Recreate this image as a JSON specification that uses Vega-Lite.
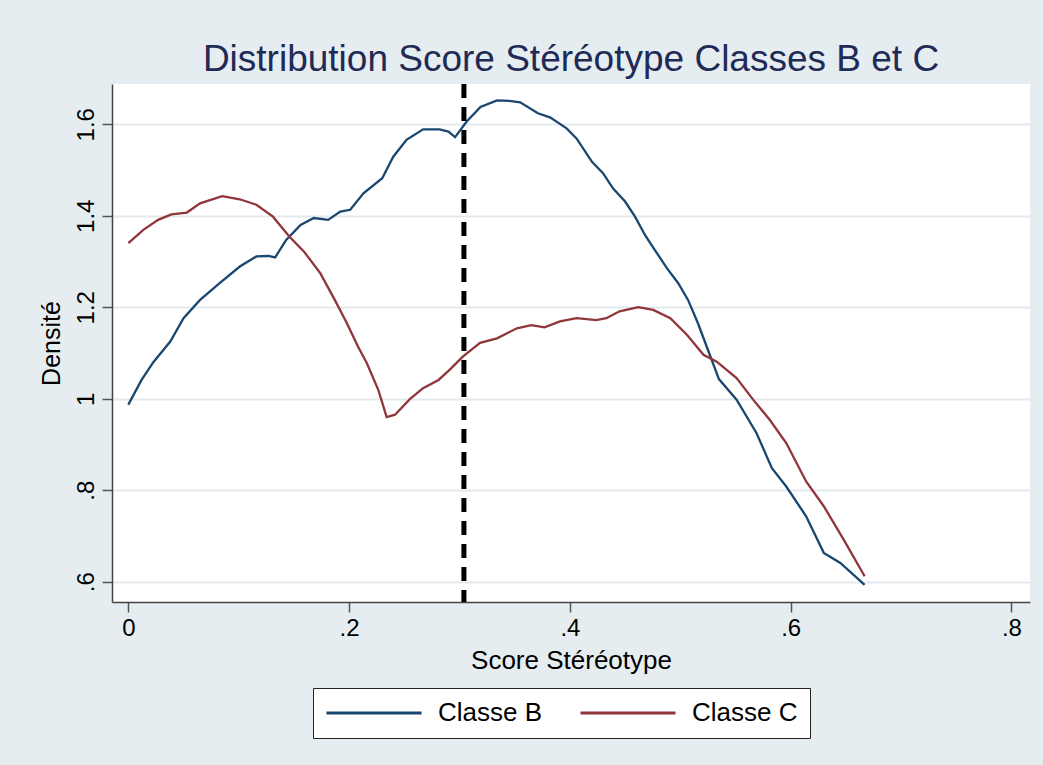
{
  "$schema": "https://vega.github.io/schema/vega-lite/v6.json",
  "width": 918,
  "height": 518,
  "autosize": {"type": "none"},
  "padding": {"left": 112, "top": 84, "right": 13, "bottom": 163},
  "background": "#e6edf0",
  "title": {
    "text": "Distribution Score Stéréotype Classes B et C",
    "font": "Liberation Sans",
    "fontSize": 37,
    "fontWeight": "normal",
    "color": "#1f2a56",
    "anchor": "middle",
    "offset": 3
  },
  "config": {
    "view": {"fill": "white", "stroke": null},
    "font": "Liberation Sans",
    "axis": {
      "labelFont": "Liberation Sans",
      "titleFont": "Liberation Sans",
      "labelColor": "#000000",
      "titleColor": "#000000",
      "titleFontWeight": "normal",
      "domainColor": "#444444",
      "domainWidth": 1.5,
      "tickColor": "#555555",
      "tickWidth": 1.5,
      "tickSize": 10
    },
    "legend": {
      "orient": "none",
      "legendX": 201,
      "legendY": 604,
      "direction": "horizontal",
      "padding": 12,
      "strokeColor": "#222222",
      "fillColor": "white",
      "symbolType": "stroke",
      "symbolSize": 9025,
      "symbolStrokeWidth": 3,
      "clipHeight": 26,
      "labelFont": "Liberation Sans",
      "labelFontSize": 26,
      "labelColor": "#000000",
      "labelOffset": 15,
      "columnPadding": 36,
      "title": null
    }
  },
  "datasets": {
    "dens": [
      {"score": 0.000, "densite": 0.987, "classe": "Classe B"},
      {"score": 0.012, "densite": 1.041, "classe": "Classe B"},
      {"score": 0.023, "densite": 1.081, "classe": "Classe B"},
      {"score": 0.038, "densite": 1.125, "classe": "Classe B"},
      {"score": 0.050, "densite": 1.176, "classe": "Classe B"},
      {"score": 0.065, "densite": 1.216, "classe": "Classe B"},
      {"score": 0.083, "densite": 1.253, "classe": "Classe B"},
      {"score": 0.101, "densite": 1.289, "classe": "Classe B"},
      {"score": 0.116, "densite": 1.311, "classe": "Classe B"},
      {"score": 0.127, "densite": 1.312, "classe": "Classe B"},
      {"score": 0.133, "densite": 1.309, "classe": "Classe B"},
      {"score": 0.143, "densite": 1.347, "classe": "Classe B"},
      {"score": 0.156, "densite": 1.380, "classe": "Classe B"},
      {"score": 0.168, "densite": 1.395, "classe": "Classe B"},
      {"score": 0.181, "densite": 1.391, "classe": "Classe B"},
      {"score": 0.192, "densite": 1.409, "classe": "Classe B"},
      {"score": 0.201, "densite": 1.413, "classe": "Classe B"},
      {"score": 0.213, "densite": 1.449, "classe": "Classe B"},
      {"score": 0.230, "densite": 1.482, "classe": "Classe B"},
      {"score": 0.240, "densite": 1.529, "classe": "Classe B"},
      {"score": 0.252, "densite": 1.566, "classe": "Classe B"},
      {"score": 0.267, "densite": 1.589, "classe": "Classe B"},
      {"score": 0.282, "densite": 1.589, "classe": "Classe B"},
      {"score": 0.290, "densite": 1.584, "classe": "Classe B"},
      {"score": 0.296, "densite": 1.572, "classe": "Classe B"},
      {"score": 0.3065, "densite": 1.606, "classe": "Classe B"},
      {"score": 0.319, "densite": 1.638, "classe": "Classe B"},
      {"score": 0.334, "densite": 1.652, "classe": "Classe B"},
      {"score": 0.345, "densite": 1.651, "classe": "Classe B"},
      {"score": 0.355, "densite": 1.648, "classe": "Classe B"},
      {"score": 0.371, "densite": 1.624, "classe": "Classe B"},
      {"score": 0.382, "densite": 1.615, "classe": "Classe B"},
      {"score": 0.397, "densite": 1.591, "classe": "Classe B"},
      {"score": 0.406, "densite": 1.569, "classe": "Classe B"},
      {"score": 0.420, "densite": 1.518, "classe": "Classe B"},
      {"score": 0.430, "densite": 1.493, "classe": "Classe B"},
      {"score": 0.439, "densite": 1.460, "classe": "Classe B"},
      {"score": 0.450, "densite": 1.431, "classe": "Classe B"},
      {"score": 0.459, "densite": 1.398, "classe": "Classe B"},
      {"score": 0.468, "densite": 1.358, "classe": "Classe B"},
      {"score": 0.477, "densite": 1.325, "classe": "Classe B"},
      {"score": 0.488, "densite": 1.285, "classe": "Classe B"},
      {"score": 0.498, "densite": 1.253, "classe": "Classe B"},
      {"score": 0.507, "densite": 1.216, "classe": "Classe B"},
      {"score": 0.516, "densite": 1.165, "classe": "Classe B"},
      {"score": 0.525, "densite": 1.107, "classe": "Classe B"},
      {"score": 0.535, "densite": 1.043, "classe": "Classe B"},
      {"score": 0.551, "densite": 0.998, "classe": "Classe B"},
      {"score": 0.569, "densite": 0.925, "classe": "Classe B"},
      {"score": 0.583, "densite": 0.848, "classe": "Classe B"},
      {"score": 0.596, "densite": 0.808, "classe": "Classe B"},
      {"score": 0.614, "densite": 0.743, "classe": "Classe B"},
      {"score": 0.630, "densite": 0.663, "classe": "Classe B"},
      {"score": 0.645, "densite": 0.641, "classe": "Classe B"},
      {"score": 0.667, "densite": 0.593, "classe": "Classe B"},
      {"score": 0.000, "densite": 1.340, "classe": "Classe C"},
      {"score": 0.0136, "densite": 1.369, "classe": "Classe C"},
      {"score": 0.027, "densite": 1.391, "classe": "Classe C"},
      {"score": 0.039, "densite": 1.403, "classe": "Classe C"},
      {"score": 0.053, "densite": 1.407, "classe": "Classe C"},
      {"score": 0.065, "densite": 1.427, "classe": "Classe C"},
      {"score": 0.085, "densite": 1.443, "classe": "Classe C"},
      {"score": 0.101, "densite": 1.436, "classe": "Classe C"},
      {"score": 0.116, "densite": 1.424, "classe": "Classe C"},
      {"score": 0.131, "densite": 1.398, "classe": "Classe C"},
      {"score": 0.146, "densite": 1.354, "classe": "Classe C"},
      {"score": 0.159, "densite": 1.322, "classe": "Classe C"},
      {"score": 0.174, "densite": 1.274, "classe": "Classe C"},
      {"score": 0.187, "densite": 1.216, "classe": "Classe C"},
      {"score": 0.198, "densite": 1.165, "classe": "Classe C"},
      {"score": 0.208, "densite": 1.114, "classe": "Classe C"},
      {"score": 0.216, "densite": 1.078, "classe": "Classe C"},
      {"score": 0.2265, "densite": 1.019, "classe": "Classe C"},
      {"score": 0.234, "densite": 0.960, "classe": "Classe C"},
      {"score": 0.2416, "densite": 0.965, "classe": "Classe C"},
      {"score": 0.255, "densite": 0.999, "classe": "Classe C"},
      {"score": 0.267, "densite": 1.023, "classe": "Classe C"},
      {"score": 0.281, "densite": 1.041, "classe": "Classe C"},
      {"score": 0.291, "densite": 1.063, "classe": "Classe C"},
      {"score": 0.303, "densite": 1.092, "classe": "Classe C"},
      {"score": 0.3186, "densite": 1.122, "classe": "Classe C"},
      {"score": 0.334, "densite": 1.132, "classe": "Classe C"},
      {"score": 0.352, "densite": 1.154, "classe": "Classe C"},
      {"score": 0.365, "densite": 1.161, "classe": "Classe C"},
      {"score": 0.377, "densite": 1.156, "classe": "Classe C"},
      {"score": 0.391, "densite": 1.169, "classe": "Classe C"},
      {"score": 0.406, "densite": 1.176, "classe": "Classe C"},
      {"score": 0.424, "densite": 1.172, "classe": "Classe C"},
      {"score": 0.433, "densite": 1.176, "classe": "Classe C"},
      {"score": 0.445, "densite": 1.191, "classe": "Classe C"},
      {"score": 0.462, "densite": 1.200, "classe": "Classe C"},
      {"score": 0.4755, "densite": 1.194, "classe": "Classe C"},
      {"score": 0.491, "densite": 1.176, "classe": "Classe C"},
      {"score": 0.506, "densite": 1.140, "classe": "Classe C"},
      {"score": 0.521, "densite": 1.096, "classe": "Classe C"},
      {"score": 0.533, "densite": 1.081, "classe": "Classe C"},
      {"score": 0.551, "densite": 1.045, "classe": "Classe C"},
      {"score": 0.566, "densite": 0.998, "classe": "Classe C"},
      {"score": 0.581, "densite": 0.954, "classe": "Classe C"},
      {"score": 0.596, "densite": 0.903, "classe": "Classe C"},
      {"score": 0.614, "densite": 0.819, "classe": "Classe C"},
      {"score": 0.630, "densite": 0.765, "classe": "Classe C"},
      {"score": 0.648, "densite": 0.692, "classe": "Classe C"},
      {"score": 0.667, "densite": 0.612, "classe": "Classe C"}
    ],
    "seuil": [{"score": 0.304}]
  },
  "layer": [
    {
      "data": {"name": "dens"},
      "mark": {"type": "line", "strokeWidth": 2.3, "clip": true},
      "encoding": {
        "x": {
          "field": "score",
          "type": "quantitative",
          "scale": {"domain": [-0.0148, 0.8168], "nice": false, "zero": false},
          "axis": {
            "title": "Score Stéréotype",
            "titleFontSize": 26,
            "titlePadding": 7,
            "values": [0, 0.2, 0.4, 0.6, 0.8],
            "labelExpr": "datum.value == 0 ? '0' : replace(format(datum.value, '.1f'), '0.', '.')",
            "labelFontSize": 24,
            "labelPadding": 4,
            "grid": false
          }
        },
        "y": {
          "field": "densite",
          "type": "quantitative",
          "scale": {"domain": [0.5556, 1.688], "nice": false, "zero": false},
          "axis": {
            "title": "Densité",
            "titleFontSize": 25,
            "titlePadding": 10,
            "values": [0.6, 0.8, 1, 1.2, 1.4, 1.6],
            "labelExpr": "datum.value < 1 ? replace(format(datum.value, '.1f'), '0.', '.') : format(datum.value, '~g')",
            "labelFontSize": 24,
            "labelAngle": -90,
            "labelAlign": "center",
            "labelBaseline": "bottom",
            "labelPadding": 4,
            "grid": true,
            "gridColor": "#e3eaee",
            "gridWidth": 2
          }
        },
        "color": {
          "field": "classe",
          "type": "nominal",
          "scale": {"domain": ["Classe B", "Classe C"], "range": ["#1a476f", "#90353b"]}
        },
        "order": {"field": "score", "type": "quantitative"}
      }
    },
    {
      "data": {"name": "seuil"},
      "mark": {"type": "rule", "color": "#000000", "strokeWidth": 5, "strokeDash": [14, 9]},
      "encoding": {
        "x": {"field": "score", "type": "quantitative"}
      }
    }
  ]
}
